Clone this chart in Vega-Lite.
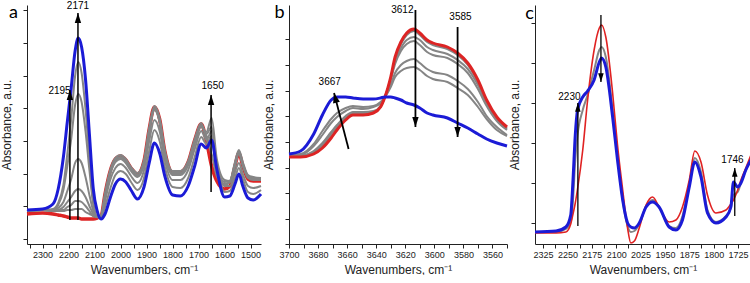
{
"$schema":"https://vega.github.io/schema/vega-lite/v6.json",
"background":"white",
"padding":{"left":0,"top":0,"right":0,"bottom":0},
"autosize":{"type":"pad"},
"spacing":28,
"bounds":"flush",
"config":{"view":{"stroke":null},
"axis":{"grid":false,"domainColor":"#222","tickColor":"#222","labelColor":"#222","titleColor":"#222","labelFont":"Liberation Sans Narrow, Liberation Sans","titleFont":"Liberation Sans Narrow, Liberation Sans","labelFontSize":9,"titleFontSize":12,"titleFontWeight":"normal","tickSize":4,"labelPadding":2,"labelFlush":false,"labelOverlap":false},
"axisY":{"labels":false,"titlePadding":9},
"axisX":{"titlePadding":5}},
"datasets":{
"a":[
{"s":"R","x":2360,"y":30},{"s":"R","x":2300,"y":31},{"s":"R","x":2260,"y":30},{"s":"R","x":2240,"y":29},{"s":"R","x":2220,"y":28},{"s":"R","x":2205,"y":27},{"s":"R","x":2190,"y":26},{"s":"R","x":2175,"y":26},{"s":"R","x":2163,"y":26},{"s":"R","x":2150,"y":25},{"s":"R","x":2135,"y":25},{"s":"R","x":2120,"y":25},{"s":"R","x":2105,"y":25},{"s":"R","x":2090,"y":26},{"s":"R","x":2075,"y":28},{"s":"R","x":2060,"y":50},{"s":"R","x":2040,"y":73},{"s":"R","x":2020,"y":85},{"s":"R","x":2000,"y":88},{"s":"R","x":1980,"y":84},{"s":"R","x":1960,"y":76},{"s":"R","x":1935,"y":70},{"s":"R","x":1910,"y":83},{"s":"R","x":1890,"y":115},{"s":"R","x":1870,"y":137},{"s":"R","x":1850,"y":125},{"s":"R","x":1830,"y":93},{"s":"R","x":1800,"y":72},{"s":"R","x":1770,"y":72},{"s":"R","x":1740,"y":82},{"s":"R","x":1715,"y":104},{"s":"R","x":1690,"y":120},{"s":"R","x":1670,"y":103},{"s":"R","x":1650,"y":78},{"s":"R","x":1630,"y":63},{"s":"R","x":1600,"y":55},{"s":"R","x":1580,"y":58},{"s":"R","x":1560,"y":78},{"s":"R","x":1545,"y":91},{"s":"R","x":1530,"y":78},{"s":"R","x":1510,"y":65},{"s":"R","x":1490,"y":63},{"s":"R","x":1460,"y":63},
{"s":"G1","x":2360,"y":33},{"s":"G1","x":2300,"y":34},{"s":"G1","x":2260,"y":33},{"s":"G1","x":2240,"y":33},{"s":"G1","x":2220,"y":33},{"s":"G1","x":2205,"y":34},{"s":"G1","x":2190,"y":34},{"s":"G1","x":2175,"y":35},{"s":"G1","x":2163,"y":35},{"s":"G1","x":2150,"y":35},{"s":"G1","x":2135,"y":32},{"s":"G1","x":2120,"y":30},{"s":"G1","x":2105,"y":28},{"s":"G1","x":2090,"y":27},{"s":"G1","x":2075,"y":29},{"s":"G1","x":2060,"y":51},{"s":"G1","x":2040,"y":74},{"s":"G1","x":2020,"y":86},{"s":"G1","x":2000,"y":89},{"s":"G1","x":1980,"y":85},{"s":"G1","x":1960,"y":77},{"s":"G1","x":1935,"y":71},{"s":"G1","x":1910,"y":84},{"s":"G1","x":1890,"y":116},{"s":"G1","x":1870,"y":138},{"s":"G1","x":1850,"y":126},{"s":"G1","x":1830,"y":94},{"s":"G1","x":1800,"y":73},{"s":"G1","x":1770,"y":73},{"s":"G1","x":1740,"y":83},{"s":"G1","x":1715,"y":105},{"s":"G1","x":1690,"y":121},{"s":"G1","x":1670,"y":105},{"s":"G1","x":1650,"y":90},{"s":"G1","x":1630,"y":68},{"s":"G1","x":1600,"y":59},{"s":"G1","x":1580,"y":62},{"s":"G1","x":1560,"y":82},{"s":"G1","x":1545,"y":94},{"s":"G1","x":1530,"y":82},{"s":"G1","x":1510,"y":69},{"s":"G1","x":1490,"y":67},{"s":"G1","x":1460,"y":66},
{"s":"G2","x":2360,"y":33},{"s":"G2","x":2300,"y":34},{"s":"G2","x":2260,"y":33},{"s":"G2","x":2240,"y":34},{"s":"G2","x":2220,"y":34},{"s":"G2","x":2205,"y":37},{"s":"G2","x":2190,"y":39},{"s":"G2","x":2175,"y":43},{"s":"G2","x":2163,"y":43},{"s":"G2","x":2150,"y":42},{"s":"G2","x":2135,"y":38},{"s":"G2","x":2120,"y":33},{"s":"G2","x":2105,"y":28},{"s":"G2","x":2090,"y":27},{"s":"G2","x":2075,"y":28},{"s":"G2","x":2060,"y":49},{"s":"G2","x":2040,"y":72},{"s":"G2","x":2020,"y":84},{"s":"G2","x":2000,"y":87},{"s":"G2","x":1980,"y":83},{"s":"G2","x":1960,"y":75},{"s":"G2","x":1935,"y":69},{"s":"G2","x":1910,"y":82},{"s":"G2","x":1890,"y":114},{"s":"G2","x":1870,"y":136},{"s":"G2","x":1850,"y":124},{"s":"G2","x":1830,"y":92},{"s":"G2","x":1800,"y":71},{"s":"G2","x":1770,"y":71},{"s":"G2","x":1740,"y":81},{"s":"G2","x":1715,"y":103},{"s":"G2","x":1690,"y":119},{"s":"G2","x":1670,"y":108},{"s":"G2","x":1650,"y":105},{"s":"G2","x":1630,"y":72},{"s":"G2","x":1600,"y":60},{"s":"G2","x":1580,"y":62},{"s":"G2","x":1560,"y":80},{"s":"G2","x":1545,"y":93},{"s":"G2","x":1530,"y":80},{"s":"G2","x":1510,"y":68},{"s":"G2","x":1490,"y":66},{"s":"G2","x":1460,"y":66},
{"s":"G3","x":2360,"y":33},{"s":"G3","x":2300,"y":34},{"s":"G3","x":2260,"y":33},{"s":"G3","x":2240,"y":34},{"s":"G3","x":2220,"y":37},{"s":"G3","x":2205,"y":42},{"s":"G3","x":2190,"y":47},{"s":"G3","x":2175,"y":53},{"s":"G3","x":2163,"y":55},{"s":"G3","x":2150,"y":53},{"s":"G3","x":2135,"y":47},{"s":"G3","x":2120,"y":38},{"s":"G3","x":2105,"y":30},{"s":"G3","x":2090,"y":27},{"s":"G3","x":2075,"y":28},{"s":"G3","x":2060,"y":48},{"s":"G3","x":2040,"y":71},{"s":"G3","x":2020,"y":83},{"s":"G3","x":2000,"y":86},{"s":"G3","x":1980,"y":82},{"s":"G3","x":1960,"y":74},{"s":"G3","x":1935,"y":68},{"s":"G3","x":1910,"y":81},{"s":"G3","x":1890,"y":113},{"s":"G3","x":1870,"y":135},{"s":"G3","x":1850,"y":123},{"s":"G3","x":1830,"y":91},{"s":"G3","x":1800,"y":70},{"s":"G3","x":1770,"y":70},{"s":"G3","x":1740,"y":80},{"s":"G3","x":1715,"y":102},{"s":"G3","x":1690,"y":118},{"s":"G3","x":1670,"y":110},{"s":"G3","x":1650,"y":117},{"s":"G3","x":1630,"y":78},{"s":"G3","x":1600,"y":62},{"s":"G3","x":1580,"y":63},{"s":"G3","x":1560,"y":79},{"s":"G3","x":1545,"y":92},{"s":"G3","x":1530,"y":79},{"s":"G3","x":1510,"y":67},{"s":"G3","x":1490,"y":65},{"s":"G3","x":1460,"y":65},
{"s":"G4","x":2360,"y":33},{"s":"G4","x":2300,"y":34},{"s":"G4","x":2260,"y":34},{"s":"G4","x":2240,"y":36},{"s":"G4","x":2220,"y":42},{"s":"G4","x":2205,"y":53},{"s":"G4","x":2190,"y":65},{"s":"G4","x":2175,"y":81},{"s":"G4","x":2163,"y":85},{"s":"G4","x":2150,"y":81},{"s":"G4","x":2135,"y":67},{"s":"G4","x":2120,"y":49},{"s":"G4","x":2105,"y":33},{"s":"G4","x":2090,"y":27},{"s":"G4","x":2075,"y":27},{"s":"G4","x":2060,"y":47},{"s":"G4","x":2040,"y":70},{"s":"G4","x":2020,"y":82},{"s":"G4","x":2000,"y":85},{"s":"G4","x":1980,"y":81},{"s":"G4","x":1960,"y":73},{"s":"G4","x":1935,"y":67},{"s":"G4","x":1910,"y":80},{"s":"G4","x":1890,"y":112},{"s":"G4","x":1870,"y":134},{"s":"G4","x":1850,"y":122},{"s":"G4","x":1830,"y":90},{"s":"G4","x":1800,"y":69},{"s":"G4","x":1770,"y":69},{"s":"G4","x":1740,"y":79},{"s":"G4","x":1715,"y":101},{"s":"G4","x":1690,"y":117},{"s":"G4","x":1670,"y":112},{"s":"G4","x":1650,"y":126},{"s":"G4","x":1630,"y":85},{"s":"G4","x":1600,"y":64},{"s":"G4","x":1580,"y":63},{"s":"G4","x":1560,"y":78},{"s":"G4","x":1545,"y":90},{"s":"G4","x":1530,"y":78},{"s":"G4","x":1510,"y":66},{"s":"G4","x":1490,"y":64},{"s":"G4","x":1460,"y":64},
{"s":"G5","x":2360,"y":33},{"s":"G5","x":2300,"y":34},{"s":"G5","x":2260,"y":34},{"s":"G5","x":2240,"y":39},{"s":"G5","x":2220,"y":54},{"s":"G5","x":2205,"y":78},{"s":"G5","x":2190,"y":105},{"s":"G5","x":2175,"y":139},{"s":"G5","x":2163,"y":150},{"s":"G5","x":2150,"y":142},{"s":"G5","x":2135,"y":113},{"s":"G5","x":2120,"y":74},{"s":"G5","x":2105,"y":39},{"s":"G5","x":2090,"y":27},{"s":"G5","x":2075,"y":27},{"s":"G5","x":2060,"y":43},{"s":"G5","x":2040,"y":64},{"s":"G5","x":2020,"y":76},{"s":"G5","x":2000,"y":80},{"s":"G5","x":1980,"y":76},{"s":"G5","x":1960,"y":68},{"s":"G5","x":1935,"y":61},{"s":"G5","x":1910,"y":74},{"s":"G5","x":1890,"y":103},{"s":"G5","x":1870,"y":124},{"s":"G5","x":1850,"y":113},{"s":"G5","x":1830,"y":84},{"s":"G5","x":1800,"y":64},{"s":"G5","x":1770,"y":64},{"s":"G5","x":1740,"y":74},{"s":"G5","x":1715,"y":95},{"s":"G5","x":1690,"y":113},{"s":"G5","x":1670,"y":104},{"s":"G5","x":1650,"y":113},{"s":"G5","x":1630,"y":80},{"s":"G5","x":1600,"y":58},{"s":"G5","x":1580,"y":58},{"s":"G5","x":1560,"y":72},{"s":"G5","x":1545,"y":81},{"s":"G5","x":1530,"y":70},{"s":"G5","x":1510,"y":58},{"s":"G5","x":1490,"y":56},{"s":"G5","x":1460,"y":58},
{"s":"G6","x":2360,"y":33},{"s":"G6","x":2300,"y":34},{"s":"G6","x":2260,"y":35},{"s":"G6","x":2240,"y":41},{"s":"G6","x":2220,"y":59},{"s":"G6","x":2205,"y":90},{"s":"G6","x":2190,"y":125},{"s":"G6","x":2175,"y":168},{"s":"G6","x":2163,"y":182},{"s":"G6","x":2150,"y":171},{"s":"G6","x":2135,"y":135},{"s":"G6","x":2120,"y":86},{"s":"G6","x":2105,"y":42},{"s":"G6","x":2090,"y":27},{"s":"G6","x":2075,"y":26},{"s":"G6","x":2060,"y":37},{"s":"G6","x":2040,"y":55},{"s":"G6","x":2020,"y":69},{"s":"G6","x":2000,"y":73},{"s":"G6","x":1980,"y":70},{"s":"G6","x":1960,"y":62},{"s":"G6","x":1935,"y":54},{"s":"G6","x":1910,"y":66},{"s":"G6","x":1890,"y":93},{"s":"G6","x":1870,"y":114},{"s":"G6","x":1850,"y":103},{"s":"G6","x":1830,"y":77},{"s":"G6","x":1800,"y":57},{"s":"G6","x":1770,"y":56},{"s":"G6","x":1740,"y":66},{"s":"G6","x":1715,"y":87},{"s":"G6","x":1690,"y":107},{"s":"G6","x":1670,"y":100},{"s":"G6","x":1650,"y":108},{"s":"G6","x":1630,"y":78},{"s":"G6","x":1600,"y":52},{"s":"G6","x":1580,"y":53},{"s":"G6","x":1560,"y":66},{"s":"G6","x":1545,"y":76},{"s":"G6","x":1530,"y":65},{"s":"G6","x":1510,"y":52},{"s":"G6","x":1490,"y":50},{"s":"G6","x":1460,"y":54},
{"s":"B","x":2360,"y":34},{"s":"B","x":2300,"y":35},{"s":"B","x":2260,"y":40},{"s":"B","x":2240,"y":55},{"s":"B","x":2220,"y":87},{"s":"B","x":2205,"y":122},{"s":"B","x":2190,"y":156},{"s":"B","x":2175,"y":193},{"s":"B","x":2163,"y":206},{"s":"B","x":2150,"y":197},{"s":"B","x":2135,"y":165},{"s":"B","x":2120,"y":110},{"s":"B","x":2105,"y":55},{"s":"B","x":2090,"y":33},{"s":"B","x":2075,"y":25},{"s":"B","x":2060,"y":30},{"s":"B","x":2040,"y":46},{"s":"B","x":2020,"y":60},{"s":"B","x":2000,"y":65},{"s":"B","x":1980,"y":62},{"s":"B","x":1960,"y":54},{"s":"B","x":1935,"y":45},{"s":"B","x":1910,"y":57},{"s":"B","x":1890,"y":81},{"s":"B","x":1870,"y":101},{"s":"B","x":1850,"y":91},{"s":"B","x":1830,"y":68},{"s":"B","x":1800,"y":49},{"s":"B","x":1770,"y":48},{"s":"B","x":1740,"y":58},{"s":"B","x":1715,"y":78},{"s":"B","x":1690,"y":100},{"s":"B","x":1670,"y":96},{"s":"B","x":1650,"y":104},{"s":"B","x":1630,"y":75},{"s":"B","x":1600,"y":47},{"s":"B","x":1580,"y":48},{"s":"B","x":1560,"y":60},{"s":"B","x":1545,"y":70},{"s":"B","x":1530,"y":58},{"s":"B","x":1510,"y":46},{"s":"B","x":1490,"y":44},{"s":"B","x":1460,"y":50}
],
"b":[
{"s":"R","x":3700,"y":87},{"s":"R","x":3692,"y":87},{"s":"R","x":3683,"y":90},{"s":"R","x":3677,"y":96},{"s":"R","x":3671,"y":106},{"s":"R","x":3667,"y":114},{"s":"R","x":3661,"y":124},{"s":"R","x":3656,"y":129},{"s":"R","x":3649,"y":129},{"s":"R","x":3642,"y":131},{"s":"R","x":3637,"y":137},{"s":"R","x":3634,"y":147},{"s":"R","x":3630,"y":167},{"s":"R","x":3627,"y":187},{"s":"R","x":3623,"y":202},{"s":"R","x":3619,"y":211},{"s":"R","x":3614,"y":215},{"s":"R","x":3610,"y":211},{"s":"R","x":3605,"y":204},{"s":"R","x":3601,"y":201},{"s":"R","x":3591,"y":197},{"s":"R","x":3584,"y":191},{"s":"R","x":3577,"y":181},{"s":"R","x":3570,"y":164},{"s":"R","x":3564,"y":144},{"s":"R","x":3557,"y":127},{"s":"R","x":3550,"y":117},
{"s":"G1","x":3700,"y":87},{"s":"G1","x":3692,"y":87},{"s":"G1","x":3683,"y":91},{"s":"G1","x":3677,"y":97},{"s":"G1","x":3671,"y":107},{"s":"G1","x":3667,"y":115},{"s":"G1","x":3661,"y":125},{"s":"G1","x":3656,"y":130},{"s":"G1","x":3649,"y":129},{"s":"G1","x":3642,"y":131},{"s":"G1","x":3637,"y":137},{"s":"G1","x":3634,"y":147},{"s":"G1","x":3630,"y":166},{"s":"G1","x":3627,"y":186},{"s":"G1","x":3623,"y":200},{"s":"G1","x":3619,"y":209},{"s":"G1","x":3614,"y":213},{"s":"G1","x":3610,"y":209},{"s":"G1","x":3605,"y":202},{"s":"G1","x":3601,"y":199},{"s":"G1","x":3591,"y":195},{"s":"G1","x":3584,"y":189},{"s":"G1","x":3577,"y":179},{"s":"G1","x":3570,"y":162},{"s":"G1","x":3564,"y":143},{"s":"G1","x":3557,"y":126},{"s":"G1","x":3550,"y":116},
{"s":"G2","x":3700,"y":87},{"s":"G2","x":3692,"y":88},{"s":"G2","x":3683,"y":92},{"s":"G2","x":3677,"y":99},{"s":"G2","x":3671,"y":110},{"s":"G2","x":3667,"y":117},{"s":"G2","x":3661,"y":126},{"s":"G2","x":3656,"y":131},{"s":"G2","x":3649,"y":131},{"s":"G2","x":3642,"y":132},{"s":"G2","x":3637,"y":138},{"s":"G2","x":3634,"y":147},{"s":"G2","x":3630,"y":165},{"s":"G2","x":3627,"y":183},{"s":"G2","x":3623,"y":196},{"s":"G2","x":3619,"y":204},{"s":"G2","x":3614,"y":207},{"s":"G2","x":3610,"y":204},{"s":"G2","x":3605,"y":197},{"s":"G2","x":3601,"y":194},{"s":"G2","x":3591,"y":190},{"s":"G2","x":3584,"y":184},{"s":"G2","x":3577,"y":175},{"s":"G2","x":3570,"y":159},{"s":"G2","x":3564,"y":140},{"s":"G2","x":3557,"y":124},{"s":"G2","x":3550,"y":115},
{"s":"G3","x":3700,"y":87},{"s":"G3","x":3692,"y":88},{"s":"G3","x":3683,"y":93},{"s":"G3","x":3677,"y":101},{"s":"G3","x":3671,"y":112},{"s":"G3","x":3667,"y":119},{"s":"G3","x":3661,"y":128},{"s":"G3","x":3656,"y":132},{"s":"G3","x":3649,"y":132},{"s":"G3","x":3642,"y":133},{"s":"G3","x":3637,"y":138},{"s":"G3","x":3634,"y":147},{"s":"G3","x":3630,"y":164},{"s":"G3","x":3627,"y":180},{"s":"G3","x":3623,"y":193},{"s":"G3","x":3619,"y":200},{"s":"G3","x":3614,"y":203},{"s":"G3","x":3610,"y":199},{"s":"G3","x":3605,"y":192},{"s":"G3","x":3601,"y":189},{"s":"G3","x":3591,"y":186},{"s":"G3","x":3584,"y":180},{"s":"G3","x":3577,"y":171},{"s":"G3","x":3570,"y":155},{"s":"G3","x":3564,"y":138},{"s":"G3","x":3557,"y":123},{"s":"G3","x":3550,"y":114},
{"s":"G4","x":3700,"y":88},{"s":"G4","x":3692,"y":89},{"s":"G4","x":3683,"y":98},{"s":"G4","x":3677,"y":109},{"s":"G4","x":3671,"y":121},{"s":"G4","x":3667,"y":127},{"s":"G4","x":3661,"y":133},{"s":"G4","x":3656,"y":136},{"s":"G4","x":3649,"y":135},{"s":"G4","x":3642,"y":137},{"s":"G4","x":3637,"y":141},{"s":"G4","x":3634,"y":147},{"s":"G4","x":3630,"y":159},{"s":"G4","x":3627,"y":171},{"s":"G4","x":3623,"y":179},{"s":"G4","x":3619,"y":183},{"s":"G4","x":3614,"y":185},{"s":"G4","x":3610,"y":181},{"s":"G4","x":3605,"y":175},{"s":"G4","x":3601,"y":172},{"s":"G4","x":3591,"y":169},{"s":"G4","x":3584,"y":163},{"s":"G4","x":3577,"y":155},{"s":"G4","x":3570,"y":142},{"s":"G4","x":3564,"y":128},{"s":"G4","x":3557,"y":117},{"s":"G4","x":3550,"y":109},
{"s":"G5","x":3700,"y":89},{"s":"G5","x":3692,"y":90},{"s":"G5","x":3683,"y":100},{"s":"G5","x":3677,"y":113},{"s":"G5","x":3671,"y":125},{"s":"G5","x":3667,"y":131},{"s":"G5","x":3661,"y":136},{"s":"G5","x":3656,"y":138},{"s":"G5","x":3649,"y":137},{"s":"G5","x":3642,"y":138},{"s":"G5","x":3637,"y":142},{"s":"G5","x":3634,"y":147},{"s":"G5","x":3630,"y":157},{"s":"G5","x":3627,"y":167},{"s":"G5","x":3623,"y":173},{"s":"G5","x":3619,"y":176},{"s":"G5","x":3614,"y":177},{"s":"G5","x":3610,"y":174},{"s":"G5","x":3605,"y":168},{"s":"G5","x":3601,"y":165},{"s":"G5","x":3591,"y":162},{"s":"G5","x":3584,"y":156},{"s":"G5","x":3577,"y":149},{"s":"G5","x":3570,"y":137},{"s":"G5","x":3564,"y":125},{"s":"G5","x":3557,"y":114},{"s":"G5","x":3550,"y":108},
{"s":"B","x":3700,"y":90},{"s":"B","x":3692,"y":93},{"s":"B","x":3683,"y":110},{"s":"B","x":3677,"y":129},{"s":"B","x":3671,"y":144},{"s":"B","x":3667,"y":147},{"s":"B","x":3661,"y":147},{"s":"B","x":3656,"y":146},{"s":"B","x":3649,"y":145},{"s":"B","x":3642,"y":145},{"s":"B","x":3637,"y":146},{"s":"B","x":3634,"y":147},{"s":"B","x":3630,"y":147},{"s":"B","x":3627,"y":146},{"s":"B","x":3623,"y":144},{"s":"B","x":3619,"y":141},{"s":"B","x":3614,"y":139},{"s":"B","x":3610,"y":136},{"s":"B","x":3605,"y":131},{"s":"B","x":3601,"y":129},{"s":"B","x":3591,"y":126},{"s":"B","x":3584,"y":121},{"s":"B","x":3577,"y":116},{"s":"B","x":3570,"y":110},{"s":"B","x":3564,"y":105},{"s":"B","x":3557,"y":101},{"s":"B","x":3550,"y":98}
],
"c":[
{"s":"G","x":2350,"y":12},{"s":"G","x":2285,"y":12},{"s":"G","x":2255,"y":15},{"s":"G","x":2240,"y":22},{"s":"G","x":2233,"y":44},{"s":"G","x":2226,"y":84},{"s":"G","x":2219,"y":109},{"s":"G","x":2203,"y":134},{"s":"G","x":2188,"y":149},{"s":"G","x":2168,"y":174},{"s":"G","x":2152,"y":194},{"s":"G","x":2145,"y":197},{"s":"G","x":2132,"y":187},{"s":"G","x":2111,"y":134},{"s":"G","x":2096,"y":89},{"s":"G","x":2080,"y":44},{"s":"G","x":2065,"y":18},{"s":"G","x":2055,"y":12},{"s":"G","x":2044,"y":13},{"s":"G","x":2029,"y":20},{"s":"G","x":2008,"y":38},{"s":"G","x":1988,"y":44},{"s":"G","x":1968,"y":37},{"s":"G","x":1937,"y":18},{"s":"G","x":1916,"y":16},{"s":"G","x":1896,"y":28},{"s":"G","x":1875,"y":60},{"s":"G","x":1858,"y":86},{"s":"G","x":1839,"y":72},{"s":"G","x":1819,"y":34},{"s":"G","x":1793,"y":22},{"s":"G","x":1762,"y":28},{"s":"G","x":1747,"y":36},{"s":"G","x":1739,"y":49},{"s":"G","x":1726,"y":52},{"s":"G","x":1716,"y":61},{"s":"G","x":1701,"y":74},{"s":"G","x":1685,"y":84},
{"s":"R","x":2350,"y":11},{"s":"R","x":2285,"y":11},{"s":"R","x":2255,"y":12},{"s":"R","x":2240,"y":20},{"s":"R","x":2233,"y":30},{"s":"R","x":2226,"y":41},{"s":"R","x":2219,"y":55},{"s":"R","x":2203,"y":94},{"s":"R","x":2188,"y":144},{"s":"R","x":2168,"y":194},{"s":"R","x":2152,"y":216},{"s":"R","x":2145,"y":219},{"s":"R","x":2132,"y":207},{"s":"R","x":2111,"y":151},{"s":"R","x":2096,"y":99},{"s":"R","x":2080,"y":54},{"s":"R","x":2065,"y":16},{"s":"R","x":2055,"y":1},{"s":"R","x":2044,"y":3},{"s":"R","x":2029,"y":16},{"s":"R","x":2008,"y":39},{"s":"R","x":1988,"y":47},{"s":"R","x":1968,"y":37},{"s":"R","x":1937,"y":22},{"s":"R","x":1916,"y":24},{"s":"R","x":1896,"y":37},{"s":"R","x":1875,"y":64},{"s":"R","x":1858,"y":93},{"s":"R","x":1839,"y":82},{"s":"R","x":1819,"y":49},{"s":"R","x":1793,"y":31},{"s":"R","x":1762,"y":34},{"s":"R","x":1747,"y":40},{"s":"R","x":1739,"y":44},{"s":"R","x":1726,"y":54},{"s":"R","x":1716,"y":64},{"s":"R","x":1701,"y":76},{"s":"R","x":1685,"y":89},
{"s":"B","x":2350,"y":12},{"s":"B","x":2285,"y":13},{"s":"B","x":2255,"y":17},{"s":"B","x":2240,"y":29},{"s":"B","x":2233,"y":64},{"s":"B","x":2226,"y":109},{"s":"B","x":2219,"y":134},{"s":"B","x":2203,"y":147},{"s":"B","x":2188,"y":153},{"s":"B","x":2168,"y":164},{"s":"B","x":2152,"y":182},{"s":"B","x":2145,"y":186},{"s":"B","x":2132,"y":177},{"s":"B","x":2111,"y":127},{"s":"B","x":2096,"y":84},{"s":"B","x":2080,"y":44},{"s":"B","x":2065,"y":21},{"s":"B","x":2055,"y":17},{"s":"B","x":2044,"y":16},{"s":"B","x":2029,"y":21},{"s":"B","x":2008,"y":37},{"s":"B","x":1988,"y":42},{"s":"B","x":1968,"y":37},{"s":"B","x":1937,"y":17},{"s":"B","x":1916,"y":14},{"s":"B","x":1896,"y":24},{"s":"B","x":1875,"y":57},{"s":"B","x":1858,"y":82},{"s":"B","x":1839,"y":67},{"s":"B","x":1819,"y":31},{"s":"B","x":1793,"y":21},{"s":"B","x":1762,"y":27},{"s":"B","x":1747,"y":37},{"s":"B","x":1739,"y":62},{"s":"B","x":1726,"y":57},{"s":"B","x":1716,"y":61},{"s":"B","x":1701,"y":74},{"s":"B","x":1685,"y":84}
],
"arr":[
{"p":"a","t":"2171","x":2164,"y":24,"x2":2164,"y2":231,"d":"up"},
{"p":"a","t":"2195","x":2195,"y":24,"x2":2195,"y2":154,"d":"up"},
{"p":"a","t":"1650","x":1652,"y":52,"x2":1652,"y2":149,"d":"up"},
{"p":"b","t":"3612","x":3613,"y":234,"x2":3613,"y2":117,"d":"down"},
{"p":"b","t":"3585","x":3584,"y":217,"x2":3584,"y2":107,"d":"down"},
{"p":"b","t":"3667","x":3659,"y":95,"x2":3669,"y2":151,"d":"up"},
{"p":"c","t":"2230","x":2218,"y":18,"x2":2218,"y2":141,"d":"up"},
{"p":"c","t":"2171","x":2147,"y":229,"x2":2147,"y2":162,"d":"down"},
{"p":"c","t":"1746","x":1735,"y":28,"x2":1735,"y2":76,"d":"up"}
],
"lab":[
{"p":"a","t":"2171","x":2164,"y":238},
{"p":"a","t":"2195","x":2235,"y":153},
{"p":"a","t":"1650","x":1646,"y":158},
{"p":"b","t":"3612","x":3622,"y":234},
{"p":"b","t":"3585","x":3582,"y":227},
{"p":"b","t":"3667","x":3672,"y":162},
{"p":"c","t":"2230","x":2244,"y":147},
{"p":"c","t":"1746","x":1742,"y":84}
],
"panel":[
{"p":"a","t":"a","x":2429,"y":226},
{"p":"b","t":"b","x":3710,"y":226},
{"p":"c","t":"c","x":2380,"y":225}
]
},
"hconcat":[
{
"width":234,"height":239,
"encoding":{
"x":{"field":"x","type":"quantitative","scale":{"domain":[1460,2360],"reverse":true,"nice":false,"zero":false},"axis":{"title":"Wavenumbers, cm⁻¹","format":"d","values":[2350,2300,2250,2200,2150,2100,2050,2000,1950,1900,1850,1800,1750,1700,1650,1600,1550,1500],"labelExpr":"datum.value % 100 == 0 ? datum.label : ''"}},
"y":{"field":"y","type":"quantitative","scale":{"domain":[0,239],"nice":false,"zero":false},"axis":{"title":"Absorbance, a.u.","values":[5,38,70,103,136,168,201,234]}}
},
"layer":[
{"data":{"name":"a"},"transform":[{"filter":"datum.s == 'R'"}],"mark":{"type":"line","color":"#dd2424","strokeWidth":3.5,"interpolate":"monotone"}},
{"data":{"name":"a"},"transform":[{"filter":"datum.s != 'R' && datum.s != 'B'"}],"mark":{"type":"line","color":"#858585","strokeWidth":2,"interpolate":"monotone"},"encoding":{"detail":{"field":"s"}}},
{"data":{"name":"a"},"transform":[{"filter":"datum.s == 'B'"}],"mark":{"type":"line","color":"#1b1bd6","strokeWidth":3,"interpolate":"monotone"}},
{"data":{"name":"arr"},"transform":[{"filter":"datum.p == 'a'"}],"mark":{"type":"rule","color":"#000","strokeWidth":1.5},"encoding":{"x2":{"field":"x2"},"y2":{"field":"y2"}}},
{"data":{"name":"arr"},"transform":[{"filter":"datum.p == 'a'"}],"mark":{"type":"point","filled":true,"color":"#000","opacity":1,"size":400,"strokeWidth":0},"encoding":{"x":{"field":"x2","type":"quantitative","scale":{"domain":[1460,2360],"reverse":true,"nice":false,"zero":false}},"y":{"field":"y2","type":"quantitative","scale":{"domain":[0,239],"nice":false,"zero":false}},"shape":{"field":"d","type":"nominal","scale":{"domain":["up","down"],"range":["M0,0L-0.32,1L0.32,1Z","M0,0L-0.32,-1L0.32,-1Z"]},"legend":null}}},
{"data":{"name":"lab"},"transform":[{"filter":"datum.p == 'a'"}],"mark":{"type":"text","font":"Liberation Sans Narrow, Liberation Sans","fontSize":10,"color":"#000"},"encoding":{"text":{"field":"t"}}},
{"data":{"name":"panel"},"transform":[{"filter":"datum.p == 'a'"}],"mark":{"type":"text","font":"Lato","fontSize":18,"color":"#000","align":"left","baseline":"alphabetic"},"encoding":{"text":{"field":"t"}}}
]
},
{
"width":218,"height":239,
"encoding":{
"x":{"field":"x","type":"quantitative","scale":{"domain":[3550,3700],"reverse":true,"nice":false,"zero":false},"axis":{"title":"Wavenumbers, cm⁻¹","format":"d","values":[3700,3690,3680,3670,3660,3650,3640,3630,3620,3610,3600,3590,3580,3570,3560,3550],"labelExpr":"datum.value % 20 == 0 ? datum.label : ''"}},
"y":{"field":"y","type":"quantitative","scale":{"domain":[0,239],"nice":false,"zero":false},"axis":{"title":"Absorbance, a.u.","values":[0,25,51,76,102,128,153,179,205]}}
},
"layer":[
{"data":{"name":"b"},"transform":[{"filter":"datum.s != 'R' && datum.s != 'B'"}],"mark":{"type":"line","color":"#858585","strokeWidth":2,"interpolate":"monotone"},"encoding":{"detail":{"field":"s"}}},
{"data":{"name":"b"},"transform":[{"filter":"datum.s == 'R'"}],"mark":{"type":"line","color":"#dd2424","strokeWidth":3,"interpolate":"monotone"}},
{"data":{"name":"b"},"transform":[{"filter":"datum.s == 'B'"}],"mark":{"type":"line","color":"#1b1bd6","strokeWidth":3,"interpolate":"monotone"}},
{"data":{"name":"arr"},"transform":[{"filter":"datum.p == 'b'"}],"mark":{"type":"rule","color":"#000","strokeWidth":1.8},"encoding":{"x2":{"field":"x2"},"y2":{"field":"y2"}}},
{"data":{"name":"arr"},"transform":[{"filter":"datum.p == 'b' && datum.t != '3667'"}],"mark":{"type":"point","filled":true,"color":"#000","opacity":1,"size":400,"strokeWidth":0},"encoding":{"x":{"field":"x2","type":"quantitative","scale":{"domain":[3550,3700],"reverse":true,"nice":false,"zero":false}},"y":{"field":"y2","type":"quantitative","scale":{"domain":[0,239],"nice":false,"zero":false}},"shape":{"field":"d","type":"nominal","scale":{"domain":["up","down"],"range":["M0,0L-0.32,1L0.32,1Z","M0,0L-0.32,-1L0.32,-1Z"]},"legend":null}}},
{"data":{"name":"arr"},"transform":[{"filter":"datum.t == '3667'"}],"mark":{"type":"point","filled":true,"color":"#000","opacity":1,"size":400,"strokeWidth":0,"angle":-14,"shape":"M0,0L-0.35,1L0.35,1Z"},"encoding":{"x":{"field":"x2","type":"quantitative","scale":{"domain":[3550,3700],"reverse":true,"nice":false,"zero":false}},"y":{"field":"y2","type":"quantitative","scale":{"domain":[0,239],"nice":false,"zero":false}}}},
{"data":{"name":"lab"},"transform":[{"filter":"datum.p == 'b'"}],"mark":{"type":"text","font":"Liberation Sans Narrow, Liberation Sans","fontSize":10,"color":"#000"},"encoding":{"text":{"field":"t"}}},
{"data":{"name":"panel"},"transform":[{"filter":"datum.p == 'b'"}],"mark":{"type":"text","font":"Lato","fontSize":18,"color":"#000","align":"left","baseline":"alphabetic"},"encoding":{"text":{"field":"t"}}}
]
},
{
"width":216,"height":239,
"encoding":{
"x":{"field":"x","type":"quantitative","scale":{"domain":[1685,2350],"reverse":true,"nice":false,"zero":false},"axis":{"title":"Wavenumbers, cm⁻¹","format":"d","values":[2325,2287.5,2250,2212.5,2175,2137.5,2100,2062.5,2025,1987.5,1950,1912.5,1875,1837.5,1800,1762.5,1725,1687.5],"labelExpr":"datum.value % 75 == 0 ? datum.label : ''"}},
"y":{"field":"y","type":"quantitative","scale":{"domain":[0,239],"nice":false,"zero":false},"axis":{"title":"Absorbance, a.u.","values":[21,61,101,141,181,221]}}
},
"layer":[
{"data":{"name":"c"},"transform":[{"filter":"datum.s == 'G'"}],"mark":{"type":"line","color":"#858585","strokeWidth":2,"interpolate":"monotone"}},
{"data":{"name":"c"},"transform":[{"filter":"datum.s == 'R'"}],"mark":{"type":"line","color":"#e02222","strokeWidth":1.6,"interpolate":"monotone"}},
{"data":{"name":"c"},"transform":[{"filter":"datum.s == 'B'"}],"mark":{"type":"line","color":"#1b1bd6","strokeWidth":3,"interpolate":"monotone"}},
{"data":{"name":"arr"},"transform":[{"filter":"datum.p == 'c'"}],"mark":{"type":"rule","color":"#000","strokeWidth":1.3},"encoding":{"x2":{"field":"x2"},"y2":{"field":"y2"}}},
{"data":{"name":"arr"},"transform":[{"filter":"datum.p == 'c'"}],"mark":{"type":"point","filled":true,"color":"#000","opacity":1,"size":300,"strokeWidth":0},"encoding":{"x":{"field":"x2","type":"quantitative","scale":{"domain":[1685,2350],"reverse":true,"nice":false,"zero":false}},"y":{"field":"y2","type":"quantitative","scale":{"domain":[0,239],"nice":false,"zero":false}},"shape":{"field":"d","type":"nominal","scale":{"domain":["up","down"],"range":["M0,0L-0.32,1L0.32,1Z","M0,0L-0.32,-1L0.32,-1Z"]},"legend":null}}},
{"data":{"name":"lab"},"transform":[{"filter":"datum.p == 'c'"}],"mark":{"type":"text","font":"Liberation Sans Narrow, Liberation Sans","fontSize":10,"color":"#000"},"encoding":{"text":{"field":"t"}}},
{"data":{"name":"panel"},"transform":[{"filter":"datum.p == 'c'"}],"mark":{"type":"text","font":"Lato","fontSize":18,"color":"#000","align":"left","baseline":"alphabetic"},"encoding":{"text":{"field":"t"}}}
]
}
]
}
